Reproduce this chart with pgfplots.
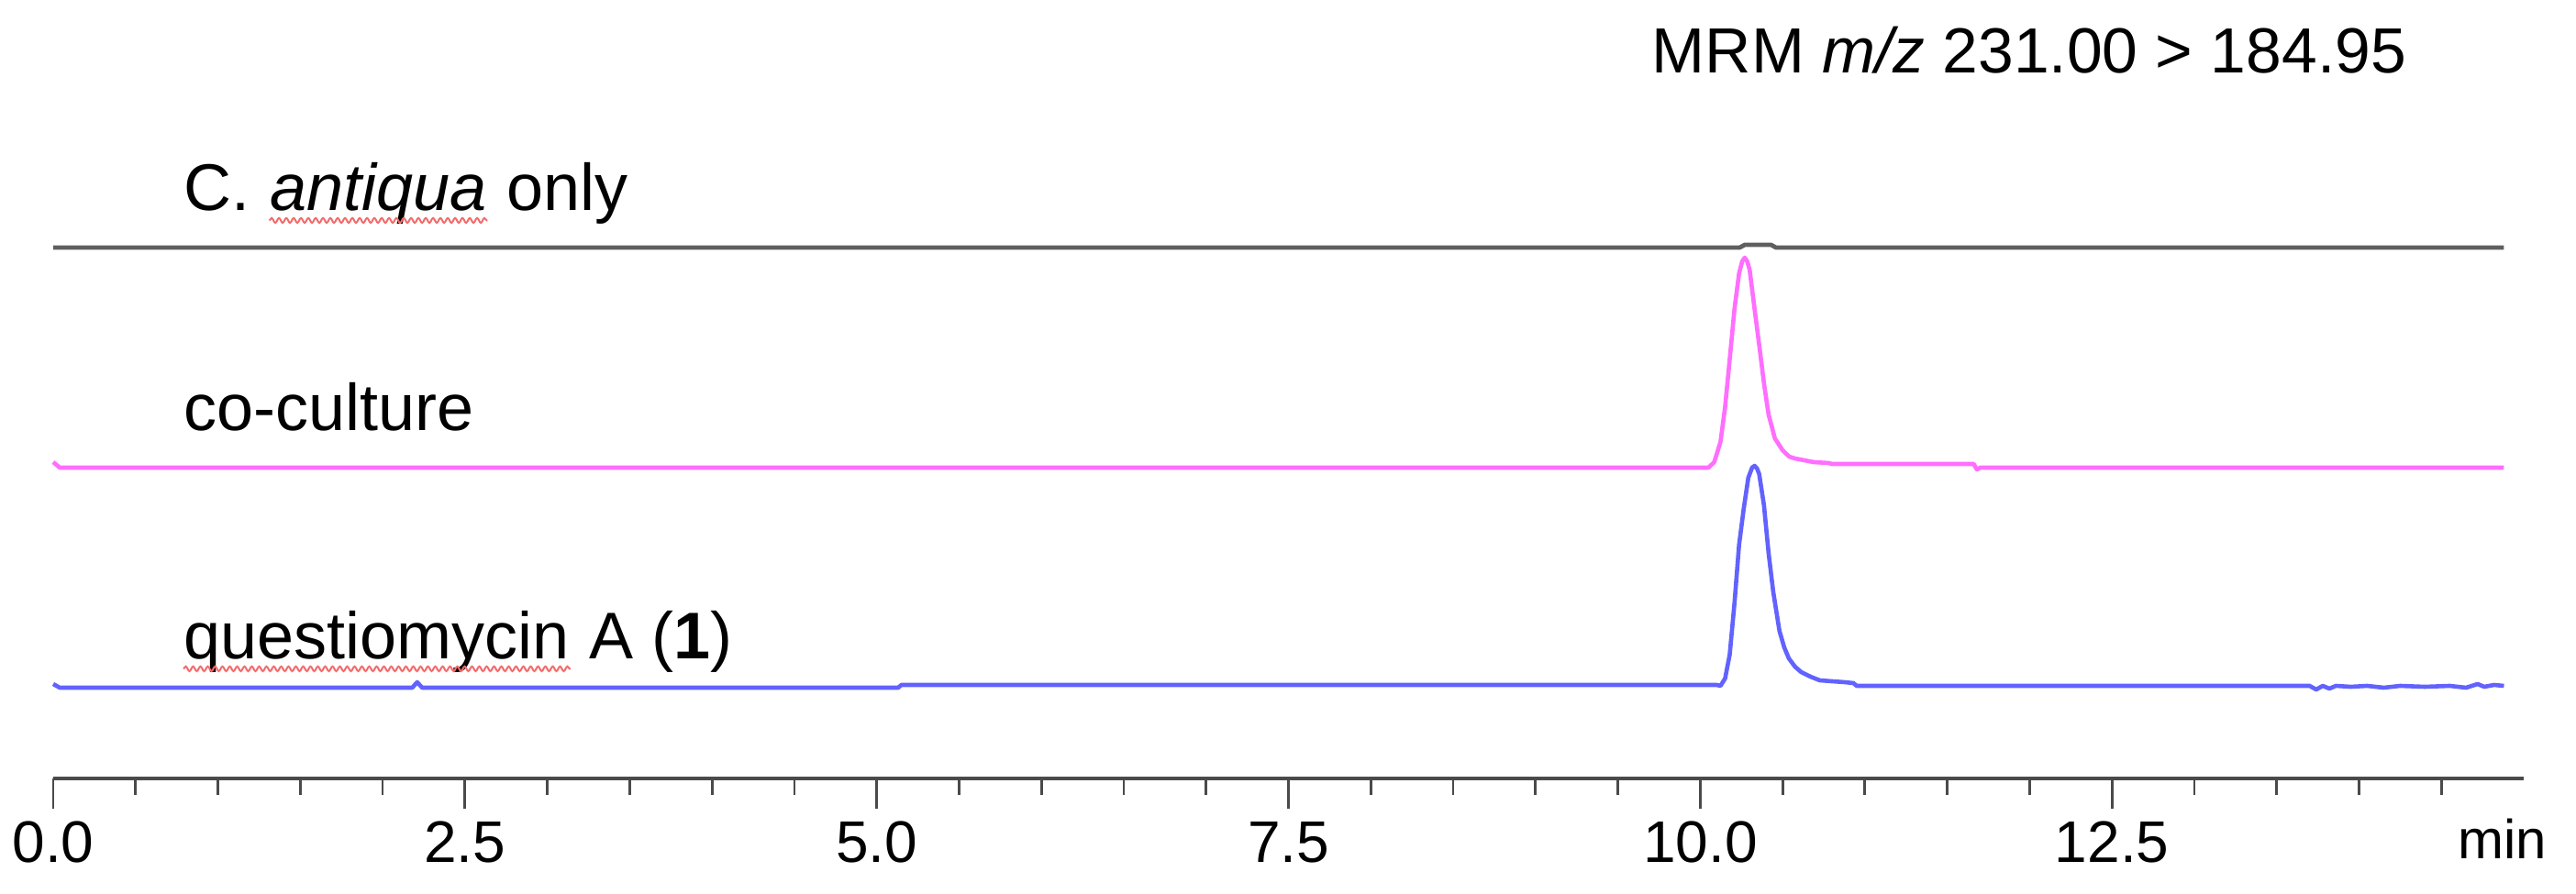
\documentclass[border=0pt]{standalone}
\usepackage{pgfplots}
\pgfplotsset{compat=1.18}
\usepackage{fontspec}
\setmainfont{Liberation Sans}
\usetikzlibrary{decorations.pathmorphing}
\definecolor{trblack}{HTML}{5F5F5F}
\definecolor{trpink}{HTML}{FF6EFF}
\definecolor{trblue}{HTML}{6262FF}
\definecolor{axgray}{HTML}{4A4A4A}
\definecolor{wavered}{HTML}{F26B6B}
\newcommand{\lab}{\fontsize{18}{21}\selectfont}
\begin{document}
\begin{tikzpicture}
\useasboundingbox (0,0) rectangle (702pt,243.75pt);
\begin{axis}[
  at={(14.5pt,31.5pt)}, anchor=south west,
  width=673.25pt, height=212.25pt, scale only axis,
  xmin=0, xmax=15, ymin=0, ymax=849,
  clip=false,
  axis x line=bottom, axis y line=none,
  x axis line style={-, line width=1pt, color=axgray},
  xtick={0,2.5,5,7.5,10,12.5},
  minor xtick={0,0.5,...,14.5},
  tick align=outside,
  major tick length=8.25pt, minor tick length=4.5pt,
  every tick/.style={line width=0.7pt, color=axgray},
  xticklabel style={font=\fontsize{16}{19}\selectfont, /pgf/number format/.cd, fixed, fixed zerofill, precision=1, assume math mode=true},
  every axis plot/.append style={line width=1.15pt, line join=round},
]
\addplot[trblack, line width=1.2pt] coordinates {
(0,579) (10.24,579) (10.27,582) (10.43,582) (10.46,579) (14.88,579)
};
\addplot[trpink] coordinates {
(0,345) (0.04,339) (10.05,339) (10.085,345) (10.123,367) (10.151,405) (10.179,457)
(10.208,512) (10.236,551) (10.255,564) (10.27,568) (10.285,564) (10.30,555)
(10.33,512) (10.36,470) (10.387,431) (10.415,397) (10.453,371) (10.5,358)
(10.54,351) (10.575,349) (10.689,345) (10.78,344) (10.80,343) (11.66,343)
(11.68,337) (11.70,339) (14.88,339)
};
\addplot[trblue] coordinates {
(0,103) (0.04,99) (2.18,99) (2.21,105) (2.24,99) (5.13,99) (5.15,102)
(10.10,102) (10.123,101) (10.151,109) (10.179,135) (10.208,191) (10.236,255)
(10.264,294) (10.292,328) (10.315,339) (10.33,341) (10.345,338) (10.358,332)
(10.387,298) (10.415,246) (10.443,204) (10.481,161) (10.51,143) (10.538,131)
(10.575,122) (10.613,116) (10.67,111) (10.726,107) (10.8,106) (10.877,105)
(10.93,104) (10.95,101) (13.70,101) (13.74,97) (13.78,101) (13.82,98)
(13.86,101) (13.95,100) (14.05,101) (14.15,99) (14.25,101) (14.40,100)
(14.55,101) (14.65,99) (14.72,103) (14.76,100) (14.82,102) (14.88,101)
};
\coordinate (L1) at (axis cs:0,619);
\coordinate (L2) at (axis cs:0,379);
\coordinate (L3) at (axis cs:0,130);
\coordinate (T) at (axis cs:0,769);
\coordinate (M) at (axis cs:14.87,-88);
\end{axis}
\tikzset{lbl/.style={anchor=base west, inner sep=0pt, font=\lab},
  wavy/.style={draw=wavered, line width=0.5pt, decorate, decoration={snake, amplitude=0.65pt, segment length=2pt}}}
\node[lbl] (c1) at ([xshift=35.5pt]L1) {C.};
\node[lbl] (c2) at ([xshift=5pt]c1.base east) {\textit{antiqua}};
\node[lbl] (c3) at (c2.base east) {\ only};
\draw[wavy] ([yshift=-2.6pt]c2.base west) -- ([yshift=-2.6pt]c2.base east);
\node[lbl] at ([xshift=35.5pt]L2) {co-culture};
\node[lbl] (q1) at ([xshift=35.5pt]L3) {questiomycin};
\node[lbl] (q2) at (q1.base east) {\ A (\textbf{1})};
\draw[wavy] ([yshift=-2.6pt]q1.base west) -- ([yshift=-2.6pt]q1.base east);
\node[lbl, font=\fontsize{17.4}{21}\selectfont] at ([xshift=435.5pt]T) {MRM \textit{m/z} 231.00 > 184.95};
\node[anchor=base, inner sep=0pt, font=\fontsize{15}{18}\selectfont] at (M) {min};
\end{tikzpicture}
\end{document}
